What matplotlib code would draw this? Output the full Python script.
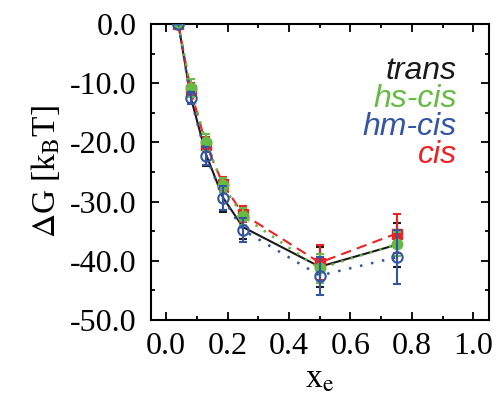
import matplotlib
matplotlib.use("Agg")
import matplotlib.pyplot as plt
from matplotlib.ticker import MultipleLocator

# data
x_e = [0.04, 0.08, 0.13, 0.185, 0.25, 0.5, 0.75]
dg_trans = [0.0, -12.3, -22.0, -29.3, -34.3, -41.0, -37.3]
err_trans = [0.0, 1.0, 2.0, 2.5, 2.0, 3.4, 3.7]
dg_hs = [0.0, -10.8, -20.0, -27.2, -32.5, -41.3, -37.2]
err_hs = [0.0, 1.5, 1.4, 1.2, 1.5, 2.5, 2.0]
dg_hm = [0.0, -12.5, -22.3, -29.4, -34.8, -42.5, -39.4]
err_hm = [0.0, 1.0, 1.5, 2.0, 2.1, 3.2, 4.6]
dg_cis = [0.0, -11.1, -20.4, -27.0, -32.1, -40.3, -35.4]
err_cis = [0.0, 1.2, 1.3, 1.2, 1.3, 3.0, 3.3]

BLACK, GREEN, BLUE, RED = "#1a1a1a", "#66bb44", "#3454a4", "#ee2222"

plt.rcParams["font.family"] = ["Liberation Serif", "DejaVu Serif"]
plt.rcParams["mathtext.fontset"] = "stix"

fig = plt.figure(figsize=(4.97, 3.98), dpi=100)
ax = fig.add_axes([0.3032, 0.196, 0.6801, 0.7437])

eb = dict(capsize=3, elinewidth=1.5, capthick=1.5, markersize=7.5)
ax.errorbar(x_e, dg_trans, yerr=err_trans, color=BLACK, ls="-", lw=1.5,
            marker="none", zorder=2, capsize=3, elinewidth=1.5, capthick=1.5)
ax.errorbar(x_e, dg_cis, yerr=err_cis, color=RED, ls=(0, (5, 3)), lw=1.5,
            marker="s", mfc=RED, mec=RED, zorder=3, **eb)
ax.errorbar(x_e, dg_hs, yerr=err_hs, color=GREEN, ls=(0, (1, 3)), lw=1.8,
            marker="o", mfc=GREEN, mec=GREEN, zorder=4, **eb)
ax.errorbar(x_e, dg_hm, yerr=err_hm, color=BLUE, ls=(0, (1, 3.5)), lw=1.8,
            marker="o", mfc="none", mec=BLUE, mew=1.5, zorder=5, **eb)

ax.set_xlim(-0.05, 1.05)
ax.set_ylim(-50, 0)
ax.xaxis.set_major_locator(MultipleLocator(0.2))
ax.xaxis.set_minor_locator(MultipleLocator(0.1))
ax.yaxis.set_major_locator(MultipleLocator(10))
ax.yaxis.set_minor_locator(MultipleLocator(5))
ax.xaxis.set_major_formatter(lambda v, p: f"{v:.1f}")
ax.yaxis.set_major_formatter(lambda v, p: f"{v:.1f}".replace("-0.0", "0.0"))
ax.tick_params(which="both", direction="in", top=True, right=True, width=1.3, labelsize=23)
ax.tick_params(which="major", length=6)
ax.tick_params(which="minor", length=3)
ax.tick_params(axis="y", pad=10)
ax.tick_params(axis="x", pad=9)
for s in ax.spines.values():
    s.set_linewidth(1.5)

ax.set_ylabel(r"$\Delta$G [k$_\mathrm{B}$T]", fontsize=24, labelpad=6)
ax.set_xlabel(r"x$_\mathrm{e}$", fontsize=24, labelpad=2)

for i, (lab, c) in enumerate([("trans", BLACK), ("hs-cis", GREEN),
                              ("hm-cis", BLUE), ("cis", RED)]):
    ax.text(0.905, 0.84 - i * 0.0945, lab, transform=ax.transAxes, ha="right", va="center",
            color=c, fontsize=23, style="italic", family=["Liberation Sans", "DejaVu Sans"])

fig.savefig("out.png", dpi=100)
